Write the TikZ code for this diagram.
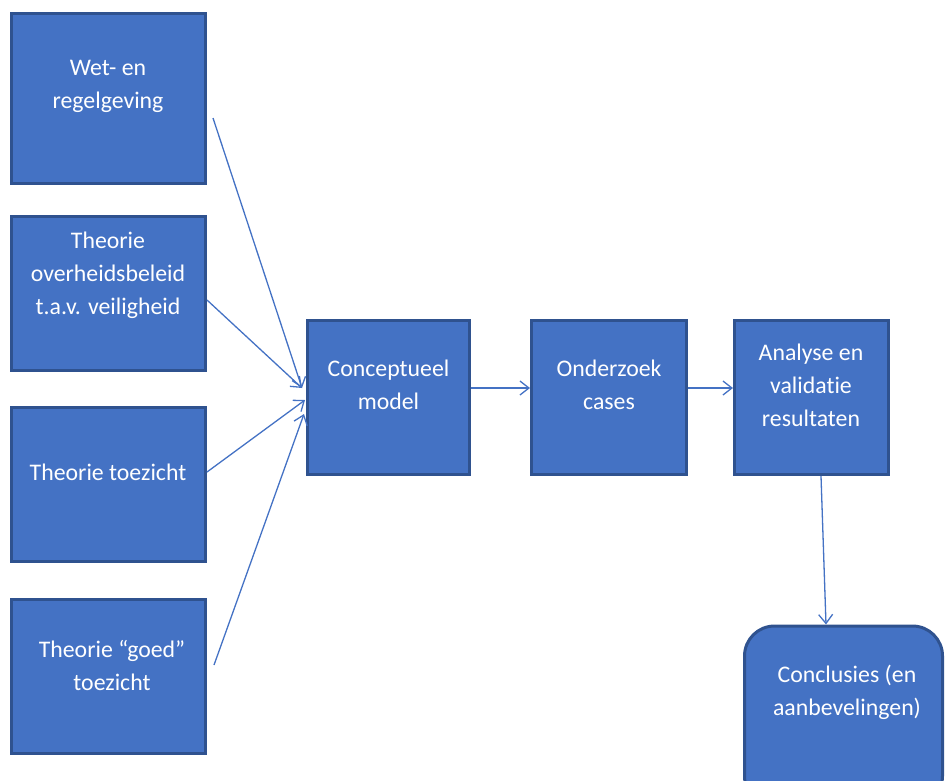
\documentclass[tikz,border=0pt]{standalone}
\usepackage{fontspec}
\setmainfont[Ligatures={NoCommon}]{Carlito}
\usetikzlibrary{arrows.meta}
\definecolor{boxfill}{HTML}{4472C4}
\definecolor{boxline}{HTML}{2F528F}
\definecolor{arrowc}{HTML}{4472C4}
\begin{document}
\begin{tikzpicture}[x=1pt,y=-1pt,
  box/.style={draw=boxline,fill=boxfill,line width=3pt,minimum width=#1,inner sep=0pt},
  tall/.style={minimum height=154pt},
  lbl/.style={text=white,font=\fontsize{23.8}{33}\selectfont,align=center,inner sep=0pt},
  conn/.style={draw=arrowc,line width=1.3pt,-{Straight Barb[length=9pt,width=14pt,line width=1.3pt]}}]
\useasboundingbox (0,0) rectangle (945,780);
% boxes
\node[box=194pt,minimum height=170pt] (b1) at (108.5,98.5) {};
\node[box=194pt,tall] (b2) at (108.5,293.5) {};
\node[box=194pt,tall] (b3) at (108.5,484.5) {};
\node[box=194pt,tall] (b4) at (108.5,676.5) {};
\node[box=162pt,tall] (cm) at (388.5,397.5) {};
\node[box=155pt,tall] (oc) at (609,397.5) {};
\node[box=154pt,tall] (an) at (811.5,397.5) {};
\node[box=198pt,minimum height=180pt,rounded corners=30pt] (co) at (843.5,716) {};
% labels
\node[lbl] (t1) at (108,86) {Wet- en\\regelgeving};
\node[lbl] (t2) at (108,275) {Theorie\\overheidsbeleid\\t.a.v. veiligheid};
\node[lbl] (t3) at (108,472) {Theorie toezicht};
\node[lbl] (t4) at (112,665) {Theorie “goed”\\toezicht};
\node[lbl] (tcm) at (388.5,385) {Conceptueel\\model};
\node[lbl] (toc) at (609,385) {Onderzoek\\cases};
\node[lbl] (tan) at (811,385) {Analyse en\\validatie\\resultaten};
\node[lbl] (tco) at (847,692) {Conclusies (en\\aanbevelingen)};
% connector ends
\coordinate (s1) at ([shift={(6,19.5)}]b1.east);
\coordinate (s2) at ([shift={(0,6.5)}]b2.east);
\coordinate (s3) at ([shift={(0,-12.5)}]b3.east);
\coordinate (s4) at ([shift={(7,-11.5)}]b4.east);
\coordinate (e1) at ([shift={(-4,-9.5)}]cm.west);
\coordinate (e3) at ([shift={(-1,2.5)}]cm.west);
\coordinate (e4) at ([shift={(-2,16.5)}]cm.west);
\draw[conn] (s1) -- (e1);
\draw[conn] (s2) -- (e1);
\draw[conn] (s3) -- (e3);
\draw[conn] (s4) -- (e4);
\draw[conn] ([yshift=9.5]cm.east) -- ([yshift=9.5]oc.west);
\draw[conn] ([yshift=9.5]oc.east) -- ([yshift=9.5]an.west);
\draw[conn] ([xshift=9.5]an.south) -- ([xshift=-17.5]co.north);
\end{tikzpicture}
\end{document}
